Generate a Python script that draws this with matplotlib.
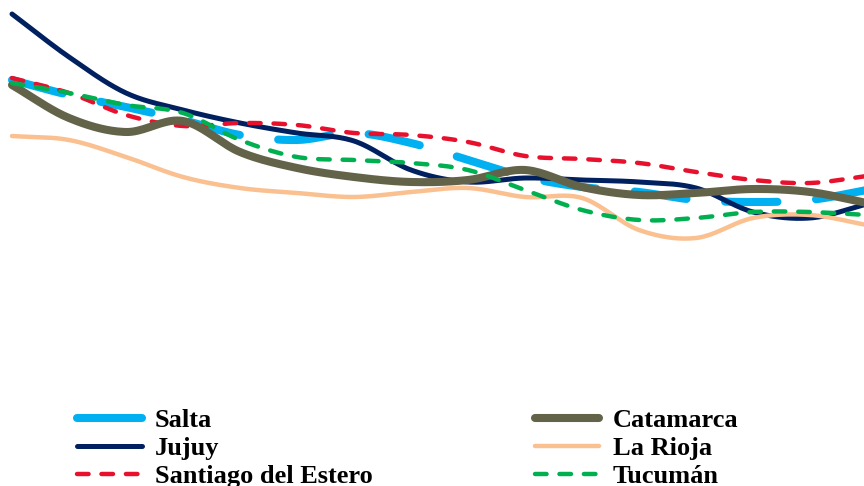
import matplotlib
matplotlib.use("Agg")
import matplotlib.pyplot as plt
from matplotlib.lines import Line2D
import numpy as np

# periods (no labels shown in the chart)
periods = np.arange(16)

salta = [42.0, 40.5, 39.3, 38.0, 36.5, 36.0, 36.7, 35.7, 34.0, 32.3, 31.3, 30.8, 30.0, 29.8, 30.0, 31.0]
jujuy = [48.6, 44.3, 40.7, 39.0, 37.7, 36.7, 35.9, 33.0, 31.8, 32.2, 32.0, 31.8, 31.2, 28.8, 28.2, 29.6]
santiago = [42.2, 40.7, 38.5, 37.4, 37.7, 37.5, 36.7, 36.5, 35.8, 34.4, 34.1, 33.7, 32.8, 32.0, 31.7, 32.4]
catamarca = [41.5, 38.2, 36.8, 37.9, 34.8, 33.2, 32.3, 31.8, 32.0, 33.0, 31.3, 30.5, 30.7, 31.1, 30.8, 29.7]
la_rioja = [36.4, 36.0, 34.3, 32.3, 31.2, 30.7, 30.3, 30.8, 31.2, 30.3, 30.2, 27.0, 26.2, 28.2, 28.5, 27.5]
tucuman = [41.7, 40.7, 39.5, 38.7, 36.0, 34.3, 34.0, 33.7, 33.0, 31.0, 29.0, 28.0, 28.2, 28.8, 28.8, 28.5]


def smooth(x, y, n=20):
    # catmull-rom like excel smoothed lines
    x = np.asarray(x, float)
    y = np.asarray(y, float)
    px = np.concatenate([[2 * x[0] - x[1]], x, [2 * x[-1] - x[-2]]])
    py = np.concatenate([[2 * y[0] - y[1]], y, [2 * y[-1] - y[-2]]])
    xs, ys = [], []
    t = np.linspace(0, 1, n, endpoint=False)
    for i in range(1, len(px) - 2):
        for arr, out in ((px, xs), (py, ys)):
            p0, p1, p2, p3 = arr[i - 1], arr[i], arr[i + 1], arr[i + 2]
            out.extend(0.5 * ((2 * p1) + (-p0 + p2) * t
                              + (2 * p0 - 5 * p1 + 4 * p2 - p3) * t ** 2
                              + (-p0 + 3 * p1 - 3 * p2 + p3) * t ** 3))
    xs.append(x[-1])
    ys.append(y[-1])
    return np.array(xs), np.array(ys)


fig = plt.figure(figsize=(8.64, 4.86), dpi=100)
ax = fig.add_axes([0, 0, 1, 1])

series = [
    ("Salta", salta, "#00B0F0", 5.8, (6.5, 4.8)),
    ("Jujuy", jujuy, "#002060", 3.6, None),
    ("Santiago del Estero", santiago, "#E8112D", 3.2, (2.6, 2.9)),
    ("Catamarca", catamarca, "#63634A", 5.8, None),
    ("La Rioja", la_rioja, "#FAC090", 3.2, None),
    ("Tucumán", tucuman, "#00B050", 3.2, (2.6, 2.9)),
]

handles = []
for name, vals, col, lw, dash in series:
    sx, sy = smooth(periods, vals)
    if dash:
        ax.plot(sx, sy, color=col, lw=lw, dashes=dash, dash_capstyle="round")
        # long-dash salta shows as a solid bar in the legend
        if name == "Salta":
            h = Line2D([], [], color=col, lw=lw, solid_capstyle="round")
        else:
            h = Line2D([], [], color=col, lw=lw, dashes=dash, dash_capstyle="round")
    else:
        ax.plot(sx, sy, color=col, lw=lw, solid_capstyle="round")
        h = Line2D([], [], color=col, lw=lw, solid_capstyle="round")
    h.set_label(name)
    handles.append(h)

ax.set_xlim(-12 / 57, 852 / 57)
ax.set_ylim(1.4, 50)
ax.axis("off")

fig.legend(handles=handles, ncol=2, loc="upper left",
           bbox_to_anchor=(0.089, 0.1595), frameon=False, borderpad=0,
           borderaxespad=0,
           prop={"family": "Liberation Serif", "weight": "bold", "size": 19},
           handlelength=2.45, handletextpad=0.5, columnspacing=6.15,
           labelspacing=0.18)

fig.savefig("out.png", dpi=100)
